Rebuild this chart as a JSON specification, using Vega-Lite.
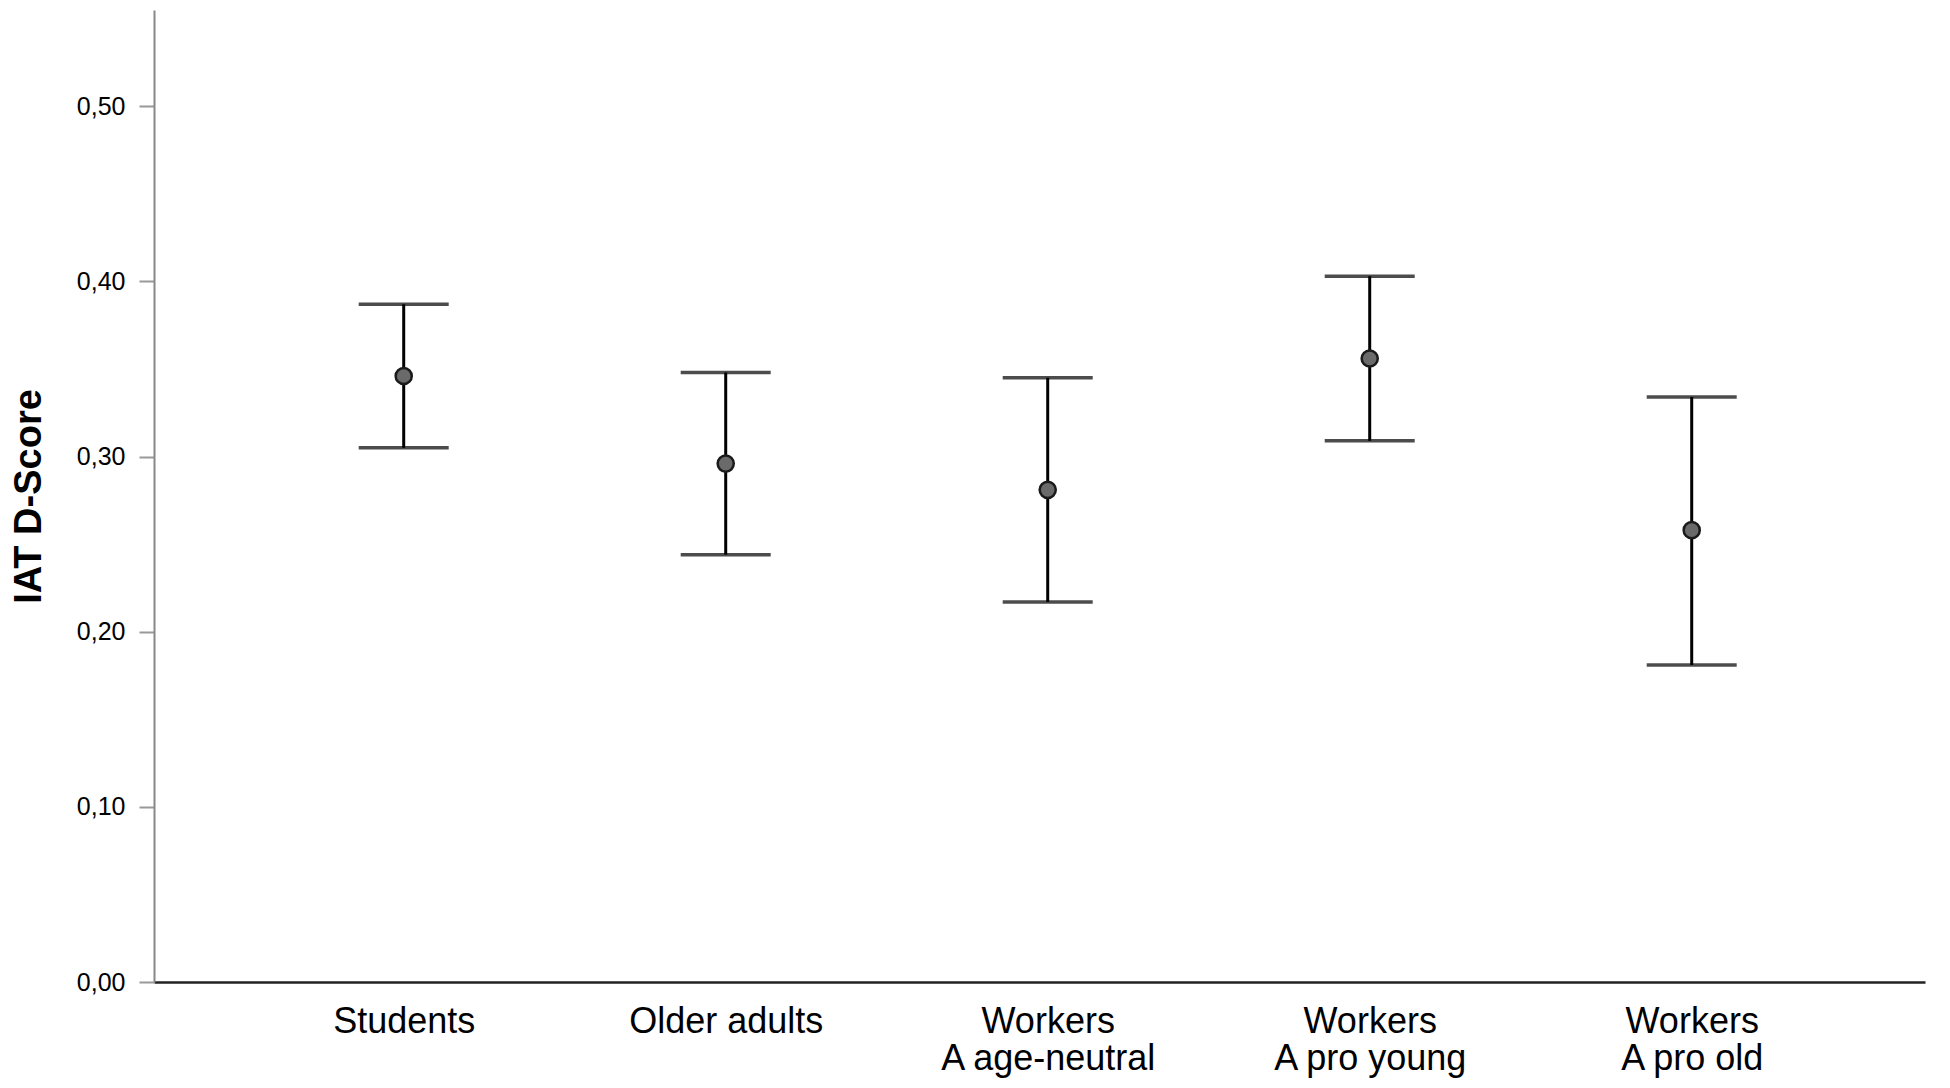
{
  "$schema": "https://vega.github.io/schema/vega-lite/v6.json",
  "autosize": "none",
  "width": 1771,
  "height": 972,
  "padding": {"left": 154, "top": 10, "right": 25, "bottom": 106},
  "background": "white",
  "config": {
    "view": {"stroke": null},
    "font": "Liberation Sans",
    "axis": {"grid": false}
  },
  "data": {
    "values": [
      {"group": "Students", "mean": 0.346, "lower": 0.305, "upper": 0.387},
      {"group": "Older adults", "mean": 0.296, "lower": 0.244, "upper": 0.348},
      {"group": "Workers\nA age-neutral", "mean": 0.281, "lower": 0.217, "upper": 0.345},
      {"group": "Workers\nA pro young", "mean": 0.356, "lower": 0.309, "upper": 0.403},
      {"group": "Workers\nA pro old", "mean": 0.258, "lower": 0.181, "upper": 0.334}
    ]
  },
  "encoding": {
    "x": {
      "field": "group",
      "type": "nominal",
      "sort": null,
      "scale": {"type": "point", "padding": 0.75, "align": 0.517},
      "axis": {
        "title": null,
        "labelAngle": 0,
        "labelExpr": "split(datum.label, '\\n')",
        "labelFont": "Liberation Sans",
        "labelFontSize": 36,
        "labelColor": "#000000",
        "labelLineHeight": 37,
        "labelPadding": 22,
        "labelLimit": 0,
        "labelOverlap": false,
        "ticks": false,
        "domainColor": "#222222",
        "domainWidth": 2.5
      }
    }
  },
  "layer": [
    {
      "mark": {"type": "rule", "color": "#000000", "strokeWidth": 3},
      "encoding": {
        "y": {
          "field": "lower",
          "type": "quantitative",
          "scale": {"domain": [0, 0.555], "nice": false, "zero": true},
          "axis": {
            "title": "IAT D-Score",
            "titleFont": "Liberation Sans",
            "titleFontSize": 38,
            "titleFontWeight": "bold",
            "titleColor": "#000000",
            "titlePadding": 28,
            "values": [0, 0.1, 0.2, 0.3, 0.4, 0.5],
            "labelExpr": "replace(format(datum.value, '.2f'), '.', ',')",
            "labelFont": "Liberation Sans",
            "labelFontSize": 25,
            "labelColor": "#000000",
            "labelPadding": 14,
            "tickSize": 15,
            "tickColor": "#999999",
            "tickWidth": 2,
            "domainColor": "#888888",
            "domainWidth": 2
          }
        },
        "y2": {"field": "upper"}
      }
    },
    {
      "mark": {"type": "tick", "color": "#000000", "size": 90, "thickness": 3.5},
      "encoding": {
        "y": {"field": "upper", "type": "quantitative"}
      }
    },
    {
      "mark": {"type": "tick", "color": "#000000", "size": 90, "thickness": 3.5},
      "encoding": {
        "y": {"field": "lower", "type": "quantitative"}
      }
    },
    {
      "mark": {"type": "point", "shape": "circle", "filled": true, "size": 260, "fill": "#6a6a6a", "stroke": "#1a1a1a", "strokeWidth": 2.5, "opacity": 1},
      "encoding": {
        "y": {"field": "mean", "type": "quantitative"}
      }
    }
  ]
}
